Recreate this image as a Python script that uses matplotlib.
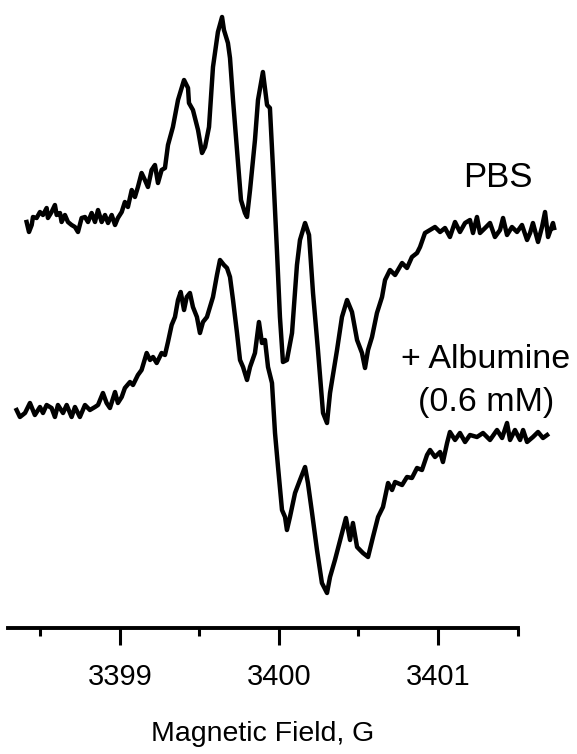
import numpy as np
import matplotlib
matplotlib.use("Agg")
import matplotlib.pyplot as plt
from matplotlib.ticker import MultipleLocator

plt.rcParams["font.family"] = ["Liberation Sans", "DejaVu Sans"]

# EPR spectra: field in G, intensity in arbitrary units
pbs_field = [
    3398.413, 3398.428, 3398.445, 3398.453, 3398.476, 3398.497, 3398.516, 3398.539,
    3398.547, 3398.570, 3398.591, 3398.602, 3398.623, 3398.633, 3398.654, 3398.673,
    3398.696, 3398.717, 3398.736, 3398.759, 3398.780, 3398.799, 3398.822, 3398.843,
    3398.862, 3398.885, 3398.906, 3398.925, 3398.948, 3398.969, 3398.987, 3399.011,
    3399.031, 3399.050, 3399.074, 3399.094, 3399.113, 3399.136, 3399.157, 3399.176,
    3399.199, 3399.220, 3399.239, 3399.262, 3399.283, 3399.302, 3399.333, 3399.365,
    3399.390, 3399.403, 3399.428, 3399.434, 3399.459, 3399.491, 3399.516, 3399.535,
    3399.560, 3399.585, 3399.616, 3399.642, 3399.654, 3399.679, 3399.692, 3399.711,
    3399.736, 3399.761, 3399.786, 3399.799, 3399.818, 3399.849, 3399.868, 3399.899,
    3399.925, 3399.943, 3399.962, 3399.987, 3400.006, 3400.025, 3400.050, 3400.082,
    3400.113, 3400.132, 3400.164, 3400.189, 3400.214, 3400.245, 3400.277, 3400.302,
    3400.321, 3400.365, 3400.396, 3400.428, 3400.459, 3400.491, 3400.522, 3400.541,
    3400.560, 3400.585, 3400.616, 3400.648, 3400.667, 3400.698, 3400.730, 3400.774,
    3400.805, 3400.836, 3400.868, 3400.887, 3400.918, 3400.950, 3400.981, 3401.013,
    3401.044, 3401.075, 3401.107, 3401.138, 3401.170, 3401.201, 3401.220, 3401.245,
    3401.264, 3401.296, 3401.327, 3401.358, 3401.390, 3401.409, 3401.434, 3401.465,
    3401.497, 3401.528, 3401.560, 3401.579, 3401.597, 3401.629, 3401.654, 3401.673,
    3401.692, 3401.723, 3401.730,
]
pbs_signal = [
    -2, -12, -5, 3, 2, 8, 5, 12, 2, 8, 15, 5, 7, -2, 5, -2,
    -5, -7, -12, 2, 3, -2, 7, -2, 10, -2, 5, -3, 5, -5, 2, 8,
    18, 13, 30, 23, 33, 47, 40, 33, 50, 55, 37, 50, 52, 75, 93, 120,
    133, 140, 132, 117, 110, 90, 67, 73, 93, 153, 188, 203, 190, 177, 162, 120,
    70, 20, 7, 3, 30, 80, 120, 148, 115, 112, 53, -30, -97, -142, -140, -113,
    -45, -20, -3, -15, -73, -130, -193, -203, -173, -130, -97, -80, -92, -120, -133, -148,
    -130, -117, -93, -77, -60, -50, -55, -43, -48, -37, -33, -27, -13, -10, -7, -12,
    -8, -17, -2, -12, -3, 0, -13, 3, -13, -8, -3, -17, -10, 2, -15, -7,
    -12, -5, -20, -13, -3, -22, -7, 8, -17, -3, -8,
]

alb_field = [
    3398.350, 3398.371, 3398.403, 3398.434, 3398.465, 3398.497, 3398.516, 3398.539,
    3398.570, 3398.591, 3398.610, 3398.642, 3398.665, 3398.696, 3398.717, 3398.748,
    3398.780, 3398.811, 3398.843, 3398.862, 3398.893, 3398.916, 3398.937, 3398.969,
    3398.987, 3399.011, 3399.031, 3399.063, 3399.082, 3399.113, 3399.136, 3399.168,
    3399.189, 3399.208, 3399.231, 3399.262, 3399.283, 3399.302, 3399.325, 3399.346,
    3399.365, 3399.382, 3399.403, 3399.420, 3399.440, 3399.459, 3399.484, 3399.503,
    3399.522, 3399.547, 3399.585, 3399.610, 3399.629, 3399.654, 3399.673, 3399.692,
    3399.711, 3399.736, 3399.755, 3399.774, 3399.799, 3399.818, 3399.849, 3399.874,
    3399.893, 3399.912, 3399.931, 3399.956, 3399.975, 3399.994, 3400.019, 3400.038,
    3400.050, 3400.069, 3400.101, 3400.132, 3400.164, 3400.182, 3400.208, 3400.239,
    3400.270, 3400.302, 3400.321, 3400.352, 3400.396, 3400.421, 3400.447, 3400.465,
    3400.491, 3400.528, 3400.560, 3400.591, 3400.623, 3400.654, 3400.686, 3400.711,
    3400.730, 3400.774, 3400.805, 3400.836, 3400.868, 3400.899, 3400.931, 3400.950,
    3400.981, 3401.013, 3401.031, 3401.057, 3401.075, 3401.107, 3401.138, 3401.170,
    3401.201, 3401.245, 3401.283, 3401.327, 3401.371, 3401.403, 3401.434, 3401.453,
    3401.484, 3401.516, 3401.535, 3401.560, 3401.597, 3401.629, 3401.660, 3401.686,
]
alb_signal = [
    0, -7, -3, 7, -5, 3, -3, 5, 2, -7, 5, -3, 5, -7, 3, -7,
    5, 0, 3, 5, 17, 7, 2, 18, 7, 13, 22, 28, 25, 35, 40, 57,
    50, 53, 47, 57, 55, 68, 85, 93, 110, 118, 100, 113, 117, 103, 93, 77,
    88, 93, 113, 135, 150, 145, 142, 133, 110, 77, 50, 43, 30, 43, 57, 88,
    67, 70, 43, 27, -23, -57, -100, -107, -120, -107, -83, -70, -57, -73, -103, -140,
    -173, -183, -167, -150, -123, -108, -130, -113, -137, -143, -147, -127, -107, -97, -73, -80,
    -72, -75, -67, -68, -58, -60, -45, -40, -47, -42, -52, -33, -22, -30, -23, -32,
    -25, -27, -23, -30, -20, -28, -13, -30, -20, -30, -20, -32, -27, -22, -28, -25,
]

fig = plt.figure(figsize=(5.77, 7.54), dpi=100)
ax = fig.add_axes([8 / 577, 126 / 754, 562 / 577, 628 / 754])

# stack the two spectra vertically
ax.plot(pbs_field, np.array(pbs_signal) - 220, color="black", lw=3.2,
        solid_joinstyle="round", clip_on=False)
ax.plot(alb_field, np.array(alb_signal) - 410, color="black", lw=3.2,
        solid_joinstyle="round", clip_on=False)

ax.set_xlim(3398.296, 3401.830)
ax.set_ylim(-628, 0)

for s in ["top", "right", "left"]:
    ax.spines[s].set_visible(False)
ax.spines["bottom"].set_linewidth(2.8)
ax.spines["bottom"].set_bounds(3398.296, 3401.5)
ax.set_yticks([])

ax.xaxis.set_major_locator(MultipleLocator(1))
ax.xaxis.set_minor_locator(MultipleLocator(0.5))
ax.tick_params(axis="x", which="major", direction="out", length=12.5, width=2.2,
               labelsize=21, pad=13)
ax.tick_params(axis="x", which="minor", direction="out", length=5.5, width=2.2)
ax.xaxis.set_major_formatter(plt.FuncFormatter(lambda v, p: f"{v:.0f}"))
ax.set_xlabel("Magnetic Field, G", fontsize=20.5)
# label centred under the drawn part of the axis line
ax.xaxis.set_label_coords(0.4537, -0.148)

fig.text(498 / 577, 1 - 187 / 754, "PBS", fontsize=25, ha="center", va="baseline")
fig.text(486 / 577, 1 - 368 / 754, "+ Albumine", fontsize=24.5, ha="center", va="baseline")
fig.text(486 / 577, 1 - 411 / 754, "(0.6 mM)", fontsize=24.5, ha="center", va="baseline")

fig.savefig("out.png", dpi=100)
